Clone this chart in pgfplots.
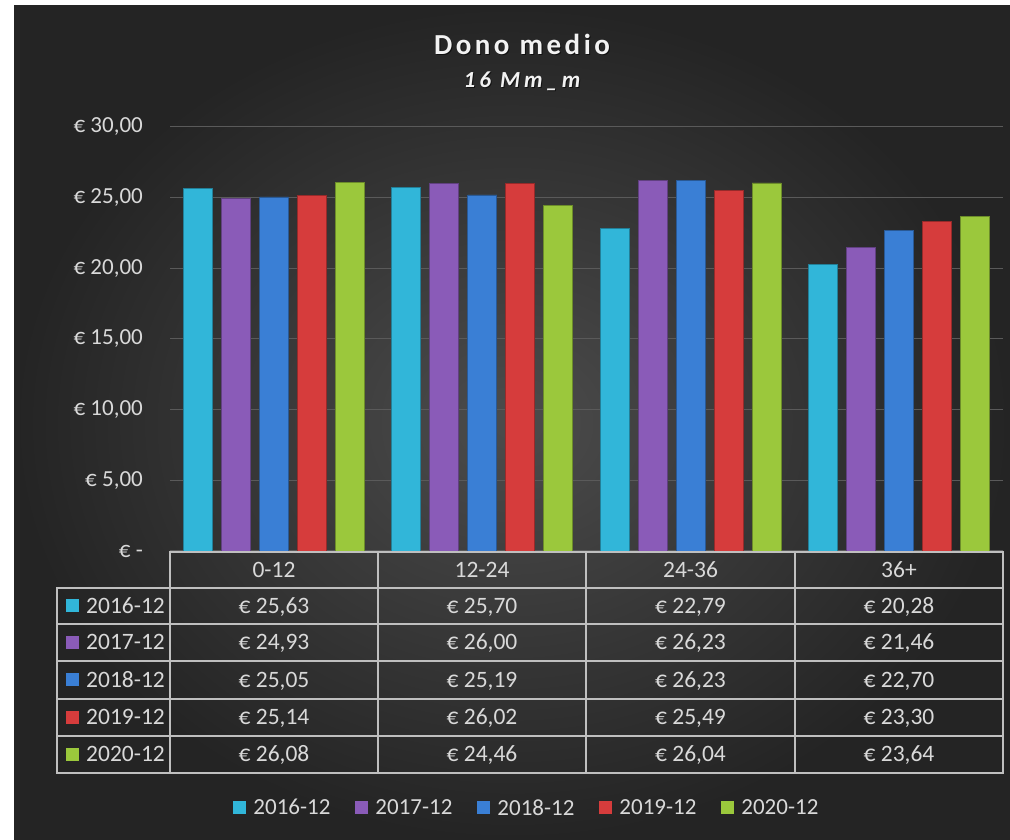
\documentclass[border=0pt]{standalone}
\usepackage{fontspec}
\setmainfont{Carlito}
\usepackage{pgfplots}
\pgfplotsset{compat=1.18}

\definecolor{bgin}{HTML}{4C4C4C}
\definecolor{bgout}{HTML}{242424}
\definecolor{txt}{HTML}{D9D9D9}
\definecolor{ttl}{HTML}{F2F2F2}
\definecolor{gridc}{HTML}{5A5A5A}
\definecolor{tabc}{HTML}{BFBFBF}
\definecolor{cA}{HTML}{31B6D9}
\definecolor{cB}{HTML}{8A5BB8}
\definecolor{cC}{HTML}{3A7FD5}
\definecolor{cD}{HTML}{D63C3C}
\definecolor{cE}{HTML}{9BC83C}

\pgfplotsset{
  barA/.style={fill=cA, draw=cA!70!black, line width=0.8pt},
  barB/.style={fill=cB, draw=cB!70!black, line width=0.8pt},
  barC/.style={fill=cC, draw=cC!70!black, line width=0.8pt},
  barD/.style={fill=cD, draw=cD!70!black, line width=0.8pt},
  barE/.style={fill=cE, draw=cE!70!black, line width=0.8pt},
}

\begin{document}
\begin{tikzpicture}[x=1pt,y=1pt]
\fill[white] (0,0) rectangle (1010,840);
\shade[inner color=bgin, outer color=bgout] (14,0) rectangle (1010,834);

\node[anchor=base, text=black, opacity=0.6, inner sep=0pt] at (523,784)
  {\fontsize{29}{34}\selectfont\bfseries\addfontfeature{LetterSpace=12}Dono medio};
\node[anchor=base, text=ttl, inner sep=0pt] at (522,785)
  {\fontsize{29}{34}\selectfont\bfseries\addfontfeature{LetterSpace=12}Dono medio};
\node[anchor=base, text=black, opacity=0.6, inner sep=0pt] at (523,751)
  {\fontsize{23}{27}\selectfont\bfseries\itshape\addfontfeature{LetterSpace=17}16 Mm\_m};
\node[anchor=base, text=ttl, inner sep=0pt] at (522,752)
  {\fontsize{23}{27}\selectfont\bfseries\itshape\addfontfeature{LetterSpace=17}16 Mm\_m};

\begin{axis}[
  at={(170pt,289pt)}, anchor=south west,
  scale only axis, width=833pt, height=424pt,
  xmin=-0.5, xmax=3.5, ymin=0, ymax=30,
  ybar=9pt, bar width=29pt,
  every axis plot/.append style={legend image code/.code={\path[##1, draw=none] (0pt,-6.5pt) rectangle (13pt,6.5pt);}},
  xtick=\empty,
  ytick={0,5,10,15,20,25,30},
  yticklabels={{€ -\hspace{11pt}},{€ 5,00},{€ 10,00},{€ 15,00},{€ 20,00},{€ 25,00},{€ 30,00}},
  yticklabel style={anchor=east, inner sep=0pt, xshift=-27pt, text=txt, font=\fontsize{23}{27}\selectfont},
  ymajorgrids, grid style={gridc, line width=1pt},
  axis line style={draw=none}, tick style={draw=none},
  legend style={at={(0.4285,-0.606)}, anchor=center, draw=none, fill=none,
    text=txt, font=\fontsize{23}{27}\selectfont, legend columns=5,
    /tikz/every odd column/.append style={column sep=5pt},
    /tikz/every even column/.append style={column sep=23pt}},
]
\addplot[barA] coordinates {(0,25.63) (1,25.70) (2,22.79) (3,20.28)};
\addplot[barB] coordinates {(0,24.93) (1,26.00) (2,26.23) (3,21.46)};
\addplot[barC] coordinates {(0,25.05) (1,25.19) (2,26.23) (3,22.70)};
\addplot[barD] coordinates {(0,25.14) (1,26.02) (2,25.49) (3,23.30)};
\addplot[barE] coordinates {(0,26.08) (1,24.46) (2,26.04) (3,23.64)};
\legend{2016-12,2017-12,2018-12,2019-12,2020-12}
\end{axis}

% data table
\begin{scope}[tabc, line width=1.5pt]
\draw (170,288) rectangle (1003,67);
\draw (57,252) rectangle (170,67);
\foreach \yy in {252,216,179,141,104} \draw (57,\yy) -- (1003,\yy);
\foreach \xx in {378,586,795} \draw (\xx,288) -- (\xx,67);
\end{scope}

\tikzset{cell/.style={text=txt, font=\fontsize{23.5}{27}\selectfont, inner sep=0pt, text height=14.5pt, text depth=0pt, anchor=center}}
\node[cell] at (274,270) {0-12};
\node[cell] at (482,270) {12-24};
\node[cell] at (690.5,270) {24-36};
\node[cell] at (899,270) {36+};

\foreach \yy/\cc/\lab/\a/\b/\c/\d in {
  {234/cA/2016-12/25,63/25,70/22,79/20,28},
  {197.5/cB/2017-12/24,93/26,00/26,23/21,46},
  {160/cC/2018-12/25,05/25,19/26,23/22,70},
  {122.5/cD/2019-12/25,14/26,02/25,49/23,30},
  {85.5/cE/2020-12/26,08/24,46/26,04/23,64}} {
  \fill[\cc] (66,\yy-6.5) rectangle (79,\yy+6.5);
  \node[cell, anchor=west] at (86,\yy) {\lab};
  \node[cell] at (274,\yy) {€ \a};
  \node[cell] at (482,\yy) {€ \b};
  \node[cell] at (690.5,\yy) {€ \c};
  \node[cell] at (899,\yy) {€ \d};
}
\end{tikzpicture}
\end{document}
